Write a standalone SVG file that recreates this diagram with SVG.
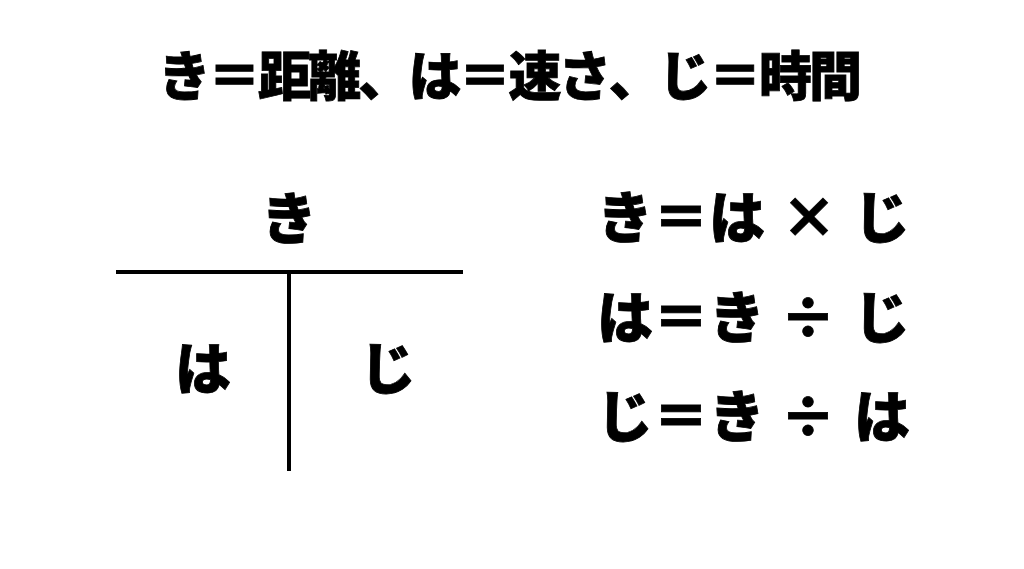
<svg xmlns="http://www.w3.org/2000/svg" width="1024" height="569" viewBox="0 0 1024 569">
<style>
.t{font-family:"Noto Sans CJK JP","Noto Sans CJK SC",sans-serif;font-weight:900;fill:#000;stroke:#000;stroke-width:0.8;text-anchor:middle}
.ln{stroke:#000;stroke-width:4;fill:none}
</style>
<rect width="1024" height="569" fill="#fff"/>
<g id="title"><text class="t" x="158" y="96" font-size="53" style="text-anchor:start" textLength="704" lengthAdjust="spacing">き＝距離、は＝速さ、じ＝時間</text></g>
<g id="connectors">
<line class="ln" x1="116" y1="272" x2="463" y2="272"/>
<line class="ln" x1="289" y1="274" x2="289" y2="471"/>
</g>
<g id="node-ki"><text class="t" x="289" y="239" font-size="56">き</text></g>
<g id="node-ha"><text class="t" x="203" y="389" font-size="56">は</text></g>
<g id="node-ji"><text class="t" x="388" y="389" font-size="56">じ</text></g>
<g id="formula1"><text class="t" font-size="56" y="238"><tspan x="625">き</tspan><tspan x="681">＝</tspan><tspan x="737">は</tspan><tspan x="809">×</tspan><tspan x="882">じ</tspan></text></g>
<g id="formula2"><text class="t" font-size="56" y="338"><tspan x="625">は</tspan><tspan x="681">＝</tspan><tspan x="737">き</tspan><tspan x="808">÷</tspan><tspan x="882">じ</tspan></text></g>
<g id="formula3"><text class="t" font-size="56" y="437"><tspan x="625">じ</tspan><tspan x="681">＝</tspan><tspan x="737">き</tspan><tspan x="808">÷</tspan><tspan x="882">は</tspan></text></g>
</svg>
